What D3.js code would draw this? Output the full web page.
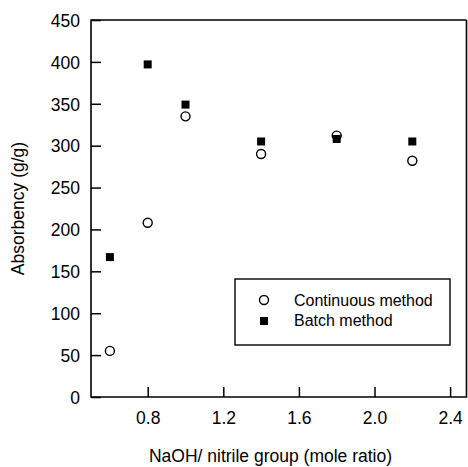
<!DOCTYPE html>
<html>
<head>
<meta charset="utf-8">
<script src="https://cdn.jsdelivr.net/npm/d3@7"></script>
<style>
  body { margin: 0; background: #fff; }
  svg { display: block; font-family: 'Liberation Sans', Arial, sans-serif; }
</style>
</head>
<body>
<div id="chart-container"></div>
<script>
// mole ratio NaOH / nitrile group
var ratios = [0.6, 0.8, 1.0, 1.4, 1.8, 2.2];
var continuous = [55, 208, 335, 290, 312, 282];
var batch = [167, 397, 349, 305, 308, 305];
var xTicks = [0.8, 1.2, 1.6, 2.0, 2.4];
var yTicks = [0, 50, 100, 150, 200, 250, 300, 350, 400, 450];

var width = 468, height = 467;
var plotLeft = 91, plotRight = 469, plotTop = 20, plotBottom = 397;

var x = d3.scaleLinear().domain([0.5, 2.5]).range([plotLeft, plotRight]);
var y = d3.scaleLinear().domain([0, 450]).range([plotBottom, plotTop]);

var svg = d3.select('#chart-container')
            .append('svg')
            .attr('width', width)
            .attr('height', height);

// frame
svg.append('path')
   .attr('d', 'M' + (width - 1.5) + ',' + plotTop + 'H' + plotLeft + 'V' + plotBottom + 'H' + (width - 1.5) + 'V' + plotTop)
   .attr('fill', 'none')
   .attr('stroke', '#000')
   .attr('stroke-width', 1.6);

// y axis, ticks pointing inward
var yAxis = svg.append('g')
   .attr('transform', 'translate(' + plotLeft + ',0)')
   .call(d3.axisRight(y).tickValues(yTicks).tickSize(10).tickFormat(d3.format('d')));
yAxis.select('.domain').remove();
yAxis.selectAll('line').attr('stroke', '#000').attr('stroke-width', 1.5);
yAxis.selectAll('text')
     .attr('x', -11)
     .attr('dy', '0.36em')
     .attr('text-anchor', 'end')
     .attr('font-size', 17.5)
     .attr('fill', '#000');

// x axis, ticks pointing inward
var xAxis = svg.append('g')
   .attr('transform', 'translate(0,' + plotBottom + ')')
   .call(d3.axisTop(x).tickValues(xTicks).tickSize(10).tickFormat(d3.format('.1f')));
xAxis.select('.domain').remove();
xAxis.selectAll('line').attr('stroke', '#000').attr('stroke-width', 1.5);
xAxis.selectAll('text')
     .attr('y', 27)
     .attr('dy', 0)
     .attr('font-size', 17.5)
     .attr('fill', '#000');

svg.append('text')
   .attr('x', (plotLeft + width) / 2 - 9)
   .attr('y', 462)
   .attr('text-anchor', 'middle')
   .attr('font-size', 17.5)
   .text('NaOH/ nitrile group (mole ratio)');

svg.append('text')
   .attr('transform', 'translate(24,' + (plotTop + plotBottom) / 2 + ') rotate(-90)')
   .attr('text-anchor', 'middle')
   .attr('font-size', 17.5)
   .text('Absorbency (g/g)');

// points
svg.selectAll('rect.batch')
   .data(ratios)
   .enter()
   .append('rect')
     .attr('class', 'batch')
     .attr('x', function(d) { return x(d) - 4; })
     .attr('y', function(d, i) { return y(batch[i]) - 4; })
     .attr('width', 8)
     .attr('height', 8)
     .attr('fill', '#000');

svg.selectAll('circle.cont')
   .data(ratios)
   .enter()
   .append('circle')
     .attr('class', 'cont')
     .attr('cx', function(d) { return x(d); })
     .attr('cy', function(d, i) { return y(continuous[i]); })
     .attr('r', 4.5)
     .attr('fill', 'none')
     .attr('stroke', '#000')
     .attr('stroke-width', 1.4);

// legend
var legend = svg.append('g').attr('transform', 'translate(235,279)');
legend.append('rect')
      .attr('width', 215)
      .attr('height', 66)
      .attr('fill', '#fff')
      .attr('stroke', '#000')
      .attr('stroke-width', 1.4);
legend.append('circle')
      .attr('cx', 29).attr('cy', 21).attr('r', 4.5)
      .attr('fill', 'none').attr('stroke', '#000').attr('stroke-width', 1.4);
legend.append('rect')
      .attr('x', 25).attr('y', 38).attr('width', 8).attr('height', 8)
      .attr('fill', '#000');
legend.append('text')
      .attr('x', 59).attr('y', 27)
      .attr('font-size', 16)
      .text('Continuous method');
legend.append('text')
      .attr('x', 59).attr('y', 47)
      .attr('font-size', 16)
      .text('Batch method');
</script>
</body>
</html>
